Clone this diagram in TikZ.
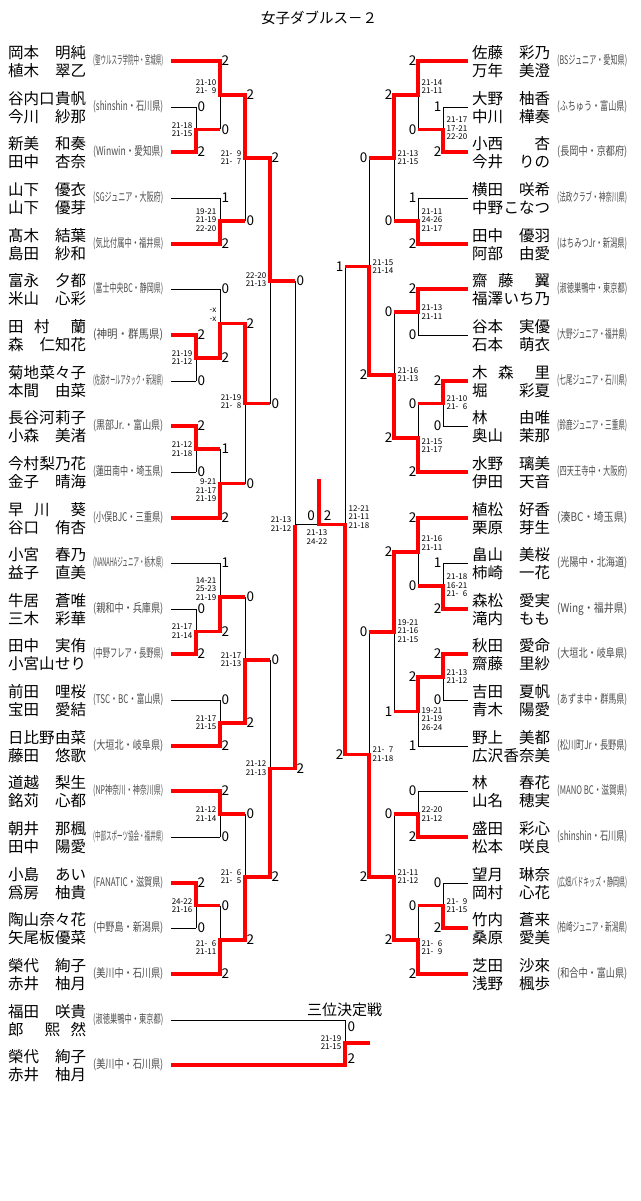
\documentclass[tikz,border=0pt]{standalone}
\usepackage{fontspec}
\setmainfont{Noto Sans CJK JP}
\usepackage{graphicx}
\usepackage{tikz}

\begin{document}
\begin{tikzpicture}[x=1pt, y=-1pt,
    ln/.style={line width=0.9pt},
    win/.style={red, line width=3.2pt},
    nm/.style={anchor=west, inner sep=0pt, align=left, font=\fontsize{15.5}{18}\selectfont},
    club/.style={anchor=west, inner sep=0pt, text=black!70},
    ptl/.style={anchor=west, inner sep=1.5pt, font=\fontsize{13.5}{14}\selectfont},
    ptr/.style={anchor=east, inner sep=1.5pt, font=\fontsize{13.5}{14}\selectfont},
    scl/.style={anchor=east, inner sep=0pt, align=right, font=\fontsize{8}{8.4}\selectfont},
    scr/.style={anchor=west, inner sep=0pt, align=left, font=\fontsize{8}{8.4}\selectfont}]
    \path[use as bounding box, fill=white] (0,0) rectangle (640,1201);

    \node[font=\fontsize{14.5}{16}\selectfont] (title) at (319,18) {女子ダブルス－２};
    \node[font=\fontsize{15}{16}\selectfont] (third) at (344.5,1010) {三位決定戦};

    \foreach \i/\y/\x/\a/\b/\c in {
        1/61/220/{岡本\hfill 明純}/{植木\hfill 翠乙}/{聖ウルスラ学院中・宮城県},
        2/107/196/{谷内口\hfill 貴帆}/{今川\hfill 紗那}/{shinshin・石川県},
        3/152/196/{新美\hfill 和奏}/{田中\hfill 杏奈}/{Winwin・愛知県},
        4/198/220/{山下\hfill 優衣}/{山下\hfill 優芽}/{SGジュニア・大阪府},
        5/244/220/{髙木\hfill 結葉}/{島田\hfill 紗和}/{気比付属中・福井県},
        6/289/220/{富永\hfill 夕都}/{米山\hfill 心彩}/{富士中央BC・静岡県},
        7/335/196/{田\hfill 村\hfill\hfill 蘭}/{森\hfill 仁知花}/{神明・群馬県},
        8/381/196/{菊地\hfill 菜々子}/{本間\hfill 由菜}/{佐渡オールアタック・新潟県},
        9/426/196/{長谷河\hfill 莉子}/{小森\hfill 美渚}/{黒部Jr.・富山県},
        10/472/196/{今村\hfill 梨乃花}/{金子\hfill 晴海}/{蓮田南中・埼玉県},
        11/518/220/{早\hfill 川\hfill\hfill 葵}/{谷口\hfill 侑杏}/{小俣BJC・三重県},
        12/563/220/{小宮\hfill 春乃}/{益子\hfill 直美}/{NANAHAジュニア・栃木県},
        13/609/196/{牛居\hfill 蒼唯}/{三木\hfill 彩華}/{親和中・兵庫県},
        14/654/196/{田中\hfill 実侑}/{小宮山\hfill せり}/{中野フレア・長野県},
        15/700/220/{前田\hfill 哩桜}/{宝田\hfill 愛結}/{TSC・BC・富山県},
        16/746/220/{日比野\hfill 由菜}/{藤田\hfill 悠歌}/{大垣北・岐阜県},
        17/791/220/{道越\hfill 梨生}/{銘苅\hfill 心都}/{NP神奈川・神奈川県},
        18/837/220/{朝井\hfill 那楓}/{田中\hfill 陽愛}/{中部スポーツ協会・福井県},
        19/883/196/{小島\hfill あい}/{爲房\hfill 柚貴}/{FANATIC・滋賀県},
        20/928/196/{陶山\hfill 奈々花}/{矢尾板\hfill 優菜}/{中野島・新潟県},
        21/974/220/{榮代\hfill 絢子}/{赤井\hfill 柚月}/{美川中・石川県},
        22/1020/345/{福田\hfill 咲貴}/{郎\hfill\hfill 熙\hfill 然}/{淑徳巣鴨中・東京都},
        23/1065/345/{榮代\hfill 絢子}/{赤井\hfill 柚月}/{美川中・石川県}} {
        \coordinate (lt\i) at (171,\y);
        \draw[ln] (lt\i) -- (\x,\y);
        \node[nm] (ln\i) at (8,\y+1) {\makebox[78pt][s]{\a}\\\makebox[78pt][s]{\b}};
        \node[club] (lc\i) at (93,\y) {\resizebox{70pt}{10pt}{(\c)}};
    }

    \foreach \i/\y/\x/\a/\b/\c in {
        1/61/418/{佐藤\hfill 彩乃}/{万年\hfill 美澄}/{BSジュニア・愛知県},
        2/107/443/{大野\hfill 柚香}/{中川\hfill 樺奏}/{ふちゅう・富山県},
        3/152/443/{小西\hfill 杏}/{今井\hfill りの}/{長岡中・京都府},
        4/198/418/{横田\hfill 咲希}/{中野\hfill こなつ}/{法政クラブ・神奈川県},
        5/244/418/{田中\hfill 優羽}/{阿部\hfill 由愛}/{はちみつJr・新潟県},
        6/289/418/{齋\hfill 藤\hfill\hfill 翼}/{福澤\hfill いち乃}/{淑徳巣鴨中・東京都},
        7/335/418/{谷本\hfill 実優}/{石本\hfill 萌衣}/{大野ジュニア・福井県},
        8/381/443/{木\hfill 森\hfill\hfill 里}/{堀\hfill 彩夏}/{七尾ジュニア・石川県},
        9/426/443/{林\hfill 由唯}/{奥山\hfill 茉那}/{鈴鹿ジュニア・三重県},
        10/472/418/{水野\hfill 璃美}/{伊田\hfill 天音}/{四天王寺中・大阪府},
        11/518/418/{植松\hfill 好香}/{栗原\hfill 芽生}/{湊BC・埼玉県},
        12/563/443/{畠山\hfill 美桜}/{柿崎\hfill 一花}/{光陽中・北海道},
        13/609/443/{森松\hfill 愛実}/{滝内\hfill もも}/{Wing・福井県},
        14/654/443/{秋田\hfill 愛命}/{齋藤\hfill 里紗}/{大垣北・岐阜県},
        15/700/443/{吉田\hfill 夏帆}/{青木\hfill 陽愛}/{あずま中・群馬県},
        16/746/418/{野上\hfill 美都}/{広沢\hfill 香奈美}/{松川町Jr・長野県},
        17/791/418/{林\hfill 春花}/{山名\hfill 穂実}/{MANO BC・滋賀県},
        18/837/418/{盛田\hfill 彩心}/{松本\hfill 咲良}/{shinshin・石川県},
        19/883/443/{望月\hfill 琳奈}/{岡村\hfill 心花}/{広畑バドキッズ・静岡県},
        20/928/443/{竹内\hfill 蒼来}/{桑原\hfill 愛美}/{柏崎ジュニア・新潟県},
        21/974/418/{芝田\hfill 沙來}/{浅野\hfill 楓歩}/{和合中・富山県}} {
        \coordinate (rt\i) at (468,\y);
        \draw[ln] (rt\i) -- (\x,\y);
        \node[nm] (rn\i) at (472,\y+1) {\makebox[78pt][s]{\a}\\\makebox[78pt][s]{\b}};
        \node[club] (rc\i) at (557,\y) {\resizebox{70pt}{10pt}{(\c)}};
    }

    \foreach \x/\a/\b in {196/107/152, 220/61/129.5, 220/198/244, 245/95/221, 196/335/381,
        220/289/358, 196/426/472, 220/449/518, 245/323.5/483.5, 270/158/403.5, 196/609/654,
        220/563/631.5, 220/700/746, 245/597/723, 220/791/837, 196/883/928, 220/905.5/974,
        245/814/940, 270/660/877, 295/281/768.5, 345/1020/1065,
        443/107/152, 418/61/129.5, 418/198/244, 394/95/221, 418/289/335, 443/381/426,
        418/403.5/472, 394/312/438, 369/158/375, 443/563/609, 418/518/586, 443/654/700,
        418/677/746, 394/552/711.5, 418/791/837, 443/883/928, 418/905.5/974, 394/814/940,
        369/632/877, 345/266.5/754.5}
        \draw[ln] (\x,\a) -- (\x,\b);
    \draw[ln] (295,524.5) -- (345,524.5);

    \draw[win] (lt1) -| (220,95) -| (245,158) -| (270,281) -- (295,281);
    \draw[win] (lt3) -| (196,129.5) -- (220,129.5);
    \draw[win] (lt5) -| (220,221) -- (245,221);
    \draw[win] (lt7) -| (196,358) -| (220,323.5) -| (245,403.5) -- (270,403.5);
    \draw[win] (lt9) -| (196,449) -- (220,449);
    \draw[win] (lt11) -| (220,483.5) -- (245,483.5);
    \draw[win] (lt14) -| (196,631.5) -| (220,597) -- (245,597);
    \draw[win] (lt16) -| (220,723) -| (245,660) -- (270,660);
    \draw[win] (lt17) -| (220,814) -- (245,814);
    \draw[win] (lt19) -| (196,905.5) -- (220,905.5);
    \draw[win] (lt21) -| (220,940) -| (245,877) -| (270,768.5) -| (295,524.5);
    \draw[win] (lt23) -| (345,1043) -- (370,1043);

    \draw[win] (rt1) -| (418,95) -| (394,158) -- (369,158);
    \draw[win] (rt3) -| (443,129.5) -- (418,129.5);
    \draw[win] (rt5) -| (418,221) -- (394,221);
    \draw[win] (rt6) -| (418,312) -- (394,312);
    \draw[win] (rt8) -| (443,403.5) -- (418,403.5);
    \draw[win] (rt10) -| (418,438) -| (394,375) -| (369,266.5) -- (345,266.5);
    \draw[win] (rt11) -| (418,552) -| (394,632) -- (369,632);
    \draw[win] (rt13) -| (443,586) -- (418,586);
    \draw[win] (rt14) -| (443,677) -| (418,711.5) -- (394,711.5);
    \draw[win] (rt18) -| (418,814) -- (394,814);
    \draw[win] (rt20) -| (443,905.5) -- (418,905.5);
    \draw[win] (rt21) -| (418,940) -| (394,877) -| (369,754.5) -| (345,524.5) -- (319,524.5) -- (319,479);

    \foreach \x/\y/\s [count=\k] in {196/107/0, 196/152/2, 220/61/2, 220/129.5/0, 220/198/1,
        220/244/2, 245/95/2, 245/221/0, 196/335/2, 196/381/0, 220/289/0, 220/358/2, 196/426/2,
        196/472/0, 220/449/1, 220/518/2, 245/323.5/2, 245/483.5/0, 270/158/2, 270/403.5/0,
        196/609/0, 196/654/2, 220/563/1, 220/631.5/2, 220/700/0, 220/746/2, 245/597/0,
        245/723/2, 220/791/2, 220/837/0, 196/883/2, 196/928/0, 220/905.5/0, 220/974/2,
        245/814/0, 245/940/2, 270/660/0, 270/877/2, 295/281/0, 295/768.5/2, 346/1027/0, 346/1059/2}
        \node[ptl] (pl\k) at (\x,\y) {\s};
    \foreach \x/\y/\s [count=\k] in {443/107/1, 443/152/2, 418/61/2, 418/129.5/0, 418/198/1,
        418/244/2, 394/95/2, 394/221/0, 418/289/2, 418/335/0, 443/381/2, 443/426/0, 418/403.5/0,
        418/472/2, 394/312/0, 394/438/2, 369/158/0, 369/375/2, 345/266.5/1, 443/563/1, 443/609/2,
        418/518/2, 418/586/0, 443/654/2, 443/700/0, 418/677/2, 418/746/1, 394/552/2, 394/711.5/1,
        418/791/0, 418/837/2, 443/883/0, 443/928/2, 418/905.5/0, 418/974/2, 394/814/0, 394/940/2,
        369/632/0, 369/877/2, 345/754.5/2}
        \node[ptr] (pr\k) at (\x,\y) {\s};
    \node[font=\fontsize{13.5}{14}\selectfont, inner sep=0pt] (fl) at (311,516) {0};
    \node[font=\fontsize{13.5}{14}\selectfont, inner sep=0pt] (fr) at (327.5,516) {2};

    \foreach \x/\y/\s [count=\k] in {196/129.5/{21-18\\21-15}, 220/86.5/{21-10\\21-\hphantom{0}9},
        220/220/{19-21\\21-19\\22-20}, 245/157.5/{21-\hphantom{0}9\\21-\hphantom{0}7},
        196/357.5/{21-19\\21-12}, 220/315/{-x\\-x}, 196/449/{21-12\\21-18},
        220/490.5/{9-21\\21-17\\21-19}, 245/401.5/{21-19\\21-\hphantom{0}8}, 270/279.5/{22-20\\21-13},
        196/631/{21-17\\21-14}, 220/589/{14-21\\25-23\\21-19}, 220/722.5/{21-17\\21-15},
        245/659.5/{21-17\\21-13}, 220/814/{21-12\\21-14}, 196/905.5/{24-22\\21-16},
        220/947.5/{21-\hphantom{0}6\\21-11}, 245/876.5/{21-\hphantom{0}6\\21-\hphantom{0}5},
        270/768/{21-12\\21-13}, 295/524/{21-13\\21-12}, 345/1042.5/{21-19\\21-15}}
        \node[scl] (sl\k) at (\x-3.5,\y) {\s};
    \foreach \x/\y/\s [count=\k] in {443/128.5/{21-17\\17-21\\22-20}, 418/86.5/{21-14\\21-11},
        418/220/{21-11\\24-26\\21-17}, 394/157.5/{21-13\\21-15}, 418/312/{21-13\\21-11},
        443/402.5/{21-10\\21-\hphantom{0}6}, 418/445.5/{21-15\\21-17}, 394/374.5/{21-16\\21-13},
        369/266.5/{21-15\\21-14}, 443/585.5/{21-18\\16-21\\21-\hphantom{0}6},
        418/543/{21-16\\21-11}, 443/676.5/{21-13\\21-12}, 418/719/{19-21\\21-19\\26-24},
        394/631/{19-21\\21-16\\21-15}, 418/814/{22-20\\21-12}, 443/905.5/{21-\hphantom{0}9\\21-15},
        418/947.5/{21-\hphantom{0}6\\21-\hphantom{0}9}, 394/876.5/{21-11\\21-12},
        369/754/{21-\hphantom{0}7\\21-18}, 345/517/{12-21\\21-11\\21-18}}
        \node[scr] (sr\k) at (\x+3.5,\y) {\s};
    \node[align=center, inner sep=0pt, font=\fontsize{8}{8.4}\selectfont] (fs) at (317,537) {21-13\\24-22};
\end{tikzpicture}
\end{document}
